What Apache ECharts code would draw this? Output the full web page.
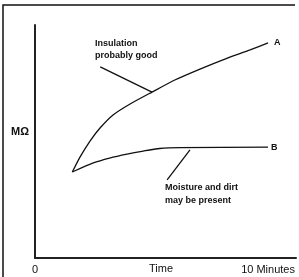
<!DOCTYPE html>
<html>
<head>
<meta charset="utf-8">
<script src="https://cdn.jsdelivr.net/npm/echarts@6/dist/echarts.min.js"></script>
<style>
  html, body { margin: 0; padding: 0; background: #fff; }
  #chart { width: 299px; height: 277px; }
</style>
</head>
<body>
<div id="chart"></div>
<script>
// curve A - insulation probably good
var curveA = [[1.6, 36.9], [1.93, 43.3], [2.36, 50.2], [2.79, 55.8], [3.35, 61.4], [4.08, 66.1], [5.02, 71.2], [6.0, 76.4], [7.08, 81.1], [8.15, 85.4], [9.23, 89.3], [10.0, 92.3]]
// curve B - moisture and dirt
var curveB = [[1.6, 36.9], [2.5, 40.8], [3.2, 42.9], [3.95, 44.6], [4.65, 45.9], [5.35, 47.0], [6.2, 47.4], [10.0, 47.6]]
// leader lines for the notes
var leaderA = [[2.8, 82.0], [5.02, 71.2]]
var leaderB = [[6.65, 46.4], [5.67, 33.5]]
var xTickText = { 0: '0', 10: '10 Minutes' }

var myecharts = echarts.init(document.getElementById('chart'))

var lineStyle = { color: '#111', width: 1.3 }

var option = {
    animation: false,
    grid: { left: 35, right: 3, top: 25, bottom: 19, outerBoundsMode: 'none' },
    xAxis: {
        type: 'value',
        min: 0,
        max: 11.2,
        interval: 10,
        axisLine: { lineStyle: { color: '#222', width: 2 } },
        axisTick: { show: false },
        splitLine: { show: false },
        axisLabel: {
            margin: 6,
            color: '#111',
            fontFamily: 'Liberation Sans',
            fontSize: 11,
            formatter: function (v) { return xTickText[v] !== undefined ? xTickText[v] : '' }
        }
    },
    yAxis: {
        type: 'value',
        min: 0,
        max: 100,
        axisLine: { show: true, lineStyle: { color: '#222', width: 2 } },
        axisTick: { show: false },
        axisLabel: { show: false },
        splitLine: { show: false }
    },
    graphic: [
        { type: 'polyline', shape: { points: [[3, 280], [3, 5], [295, 5]] }, style: { stroke: '#111', lineWidth: 1.5, fill: null } },
        { type: 'text', left: 11, top: 126, style: { text: 'MΩ', fill: '#111', font: 'bold 11px "Liberation Sans"' } },
        { type: 'text', left: 149, top: 263, style: { text: 'Time', fill: '#111', font: '11px "Liberation Sans"' } },
        { type: 'text', left: 95, top: 38, style: { text: 'Insulation\nprobably good', fill: '#111', font: 'bold 9px "Liberation Sans"', lineHeight: 12 } },
        { type: 'text', left: 165, top: 181, style: { text: 'Moisture and dirt\nmay be present', fill: '#111', font: 'bold 9px "Liberation Sans"', lineHeight: 13 } }
    ],
    series: [
        {
            name: 'A', type: 'line', data: curveA, smooth: 0.2, showSymbol: false, lineStyle: lineStyle,
            endLabel: { show: true, formatter: 'A', color: '#111', fontFamily: 'Liberation Sans', fontWeight: 'bold', fontSize: 9, distance: 6 }
        },
        {
            name: 'B', type: 'line', data: curveB, smooth: 0.2, showSymbol: false, lineStyle: lineStyle,
            endLabel: { show: true, formatter: 'B', color: '#111', fontFamily: 'Liberation Sans', fontWeight: 'bold', fontSize: 9, distance: 3 }
        },
        { type: 'line', data: leaderA, showSymbol: false, lineStyle: lineStyle },
        { type: 'line', data: leaderB, showSymbol: false, lineStyle: lineStyle }
    ]
}

myecharts.setOption(option)
</script>
</body>
</html>
